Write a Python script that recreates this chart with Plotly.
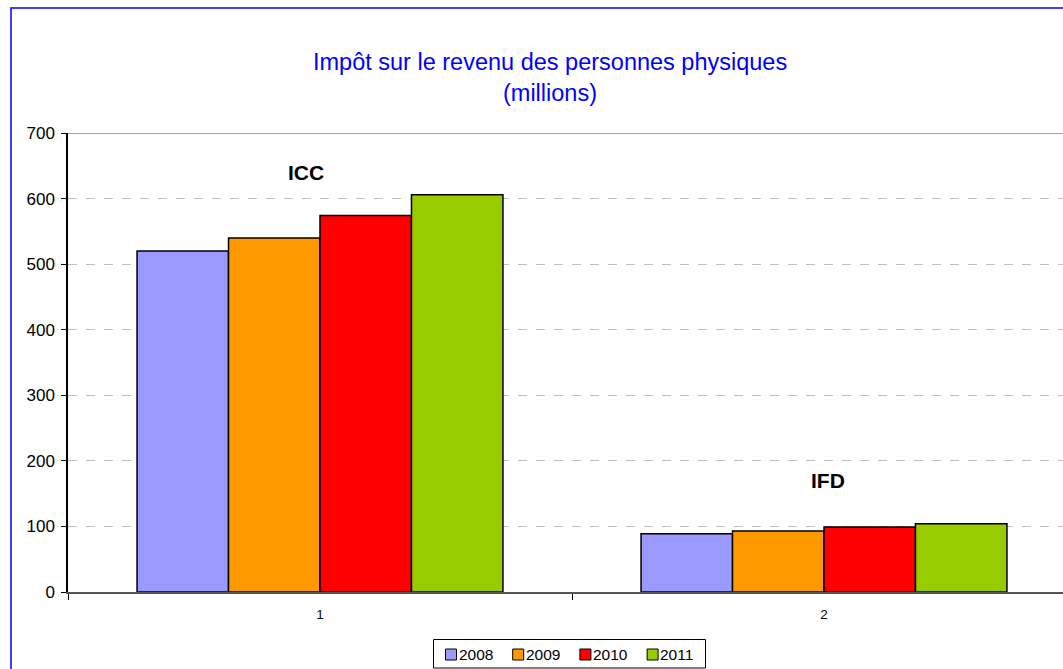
import plotly.graph_objects as go

categories = [1, 2]
years = ["2008", "2009", "2010", "2011"]
values_2008 = [520, 89]
values_2009 = [540, 93]
values_2010 = [574, 99]
values_2011 = [606, 104]
colors = ["#9999FF", "#FF9900", "#FF0000", "#99CC00"]
group_labels = ["ICC", "IFD"]
title_line1 = "Impôt sur le revenu des personnes physiques"
title_line2 = "(millions)"

series = [values_2008, values_2009, values_2010, values_2011]

W, H = 1063, 669
L, R, T, B = 68, 0, 133, 77
plot_w = W - L - R
plot_h = H - T - B
cat_px = 504.0
x_lo = 0.5
x_hi = 0.5 + plot_w / cat_px


def px_x(px):
    return (px - L) / plot_w


def px_y(py):
    return (T + plot_h - py) / plot_h


fig = go.Figure()
for name, vals, col in zip(years, series, colors):
    fig.add_trace(go.Bar(
        x=categories, y=vals, name=name,
        marker=dict(color=col, line=dict(color="#000000", width=1.5)),
        showlegend=False,
    ))

fig.update_layout(
    width=W, height=H,
    margin=dict(l=L, r=R, t=T, b=B, autoexpand=False),
    paper_bgcolor="white", plot_bgcolor="white",
    barmode="group", bargap=0.274, bargroupgap=0,
    font=dict(family="Liberation Sans, Arial, sans-serif", color="#000000"),
    showlegend=False,
)

fig.update_xaxes(
    range=[x_lo, x_hi],
    tickvals=categories, ticktext=[str(c) for c in categories],
    ticks="", tickfont=dict(size=13.5), ticklabelstandoff=9,
    showgrid=False, zeroline=False,
    showline=True, linecolor="#555555", linewidth=1.5,
    minor=dict(tickvals=[0.5, 1.5, 2.5], ticks="outside", ticklen=6,
               tickcolor="#000000", showgrid=False),
)
fig.update_yaxes(
    range=[0, 700], dtick=100,
    ticks="outside", ticklen=5, tickcolor="#000000",
    tickfont=dict(size=17), ticklabelstandoff=3,
    showgrid=True, gridcolor="#C0C0C0", griddash="dash", gridwidth=1,
    zeroline=False,
    showline=True, linecolor="#000000", linewidth=1.5,
)

# top border of plot area
fig.add_shape(type="line", xref="paper", yref="y", x0=0, x1=1, y0=700, y1=700,
              line=dict(color="#A0A0A0", width=2))

# blue outer frame
fig.add_shape(type="rect", xref="paper", yref="paper",
              x0=px_x(11), x1=1.2,
              y0=-0.3, y1=px_y(8),
              line=dict(color="#0000FF", width=1.5), layer="above")

# title
fig.add_annotation(text=title_line1, xref="paper", yref="paper",
                   x=px_x(550), y=px_y(62),
                   xanchor="center", yanchor="middle", showarrow=False,
                   font=dict(size=23.5, color="#0000FF"))
fig.add_annotation(text=title_line2, xref="paper", yref="paper",
                   x=px_x(550), y=px_y(93),
                   xanchor="center", yanchor="middle", showarrow=False,
                   font=dict(size=23.5, color="#0000FF"))

# group labels
fig.add_annotation(text="<b>" + group_labels[0] + "</b>", xref="paper", yref="paper",
                   x=px_x(306), y=px_y(172),
                   showarrow=False, font=dict(size=21), xanchor="center", yanchor="middle")
fig.add_annotation(text="<b>" + group_labels[1] + "</b>", xref="paper", yref="paper",
                   x=px_x(828), y=px_y(480),
                   showarrow=False, font=dict(size=21), xanchor="center", yanchor="middle")

# legend (drawn manually to match the compact spreadsheet legend)
fig.add_shape(type="rect", xref="paper", yref="paper",
              x0=px_x(433.5), x1=px_x(705.5), y0=px_y(668), y1=px_y(639.5),
              line=dict(color="#000000", width=1), fillcolor="white")
leg_x0 = 445.5
leg_pitch = 67.2
for i, (name, col) in enumerate(zip(years, colors)):
    sx = leg_x0 + i * leg_pitch
    fig.add_shape(type="rect", xref="paper", yref="paper",
                  x0=px_x(sx), x1=px_x(sx + 11), y0=px_y(660), y1=px_y(649),
                  line=dict(color="#000000", width=1), fillcolor=col)
    fig.add_annotation(text=name, xref="paper", yref="paper",
                       x=px_x(sx + 12), y=px_y(654.5),
                       xanchor="left", yanchor="middle", showarrow=False,
                       font=dict(size=15.5), xshift=-1)

fig.write_html("out.html",
               config={"displayModeBar": False},
               post_script="document.body.style.margin='0px';document.body.style.overflow='hidden';")
